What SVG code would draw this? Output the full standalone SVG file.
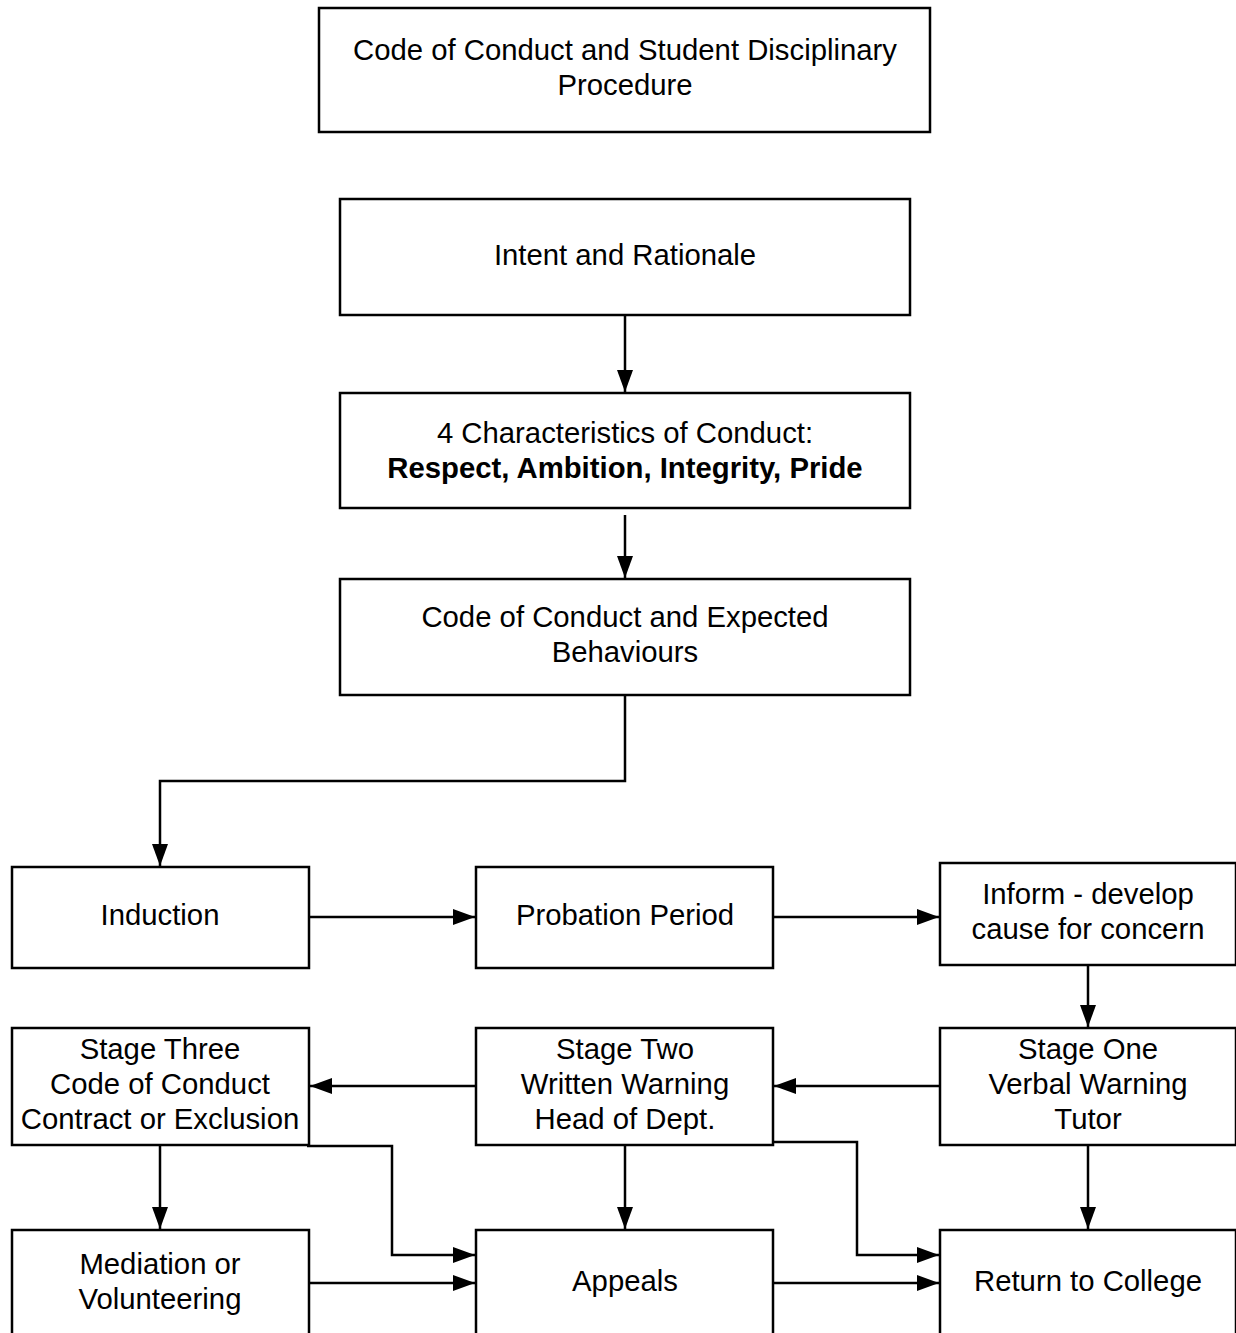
<svg xmlns="http://www.w3.org/2000/svg" width="1236" height="1333" viewBox="0 0 1236 1333">
<defs>
<marker id="ah" markerWidth="22" markerHeight="16" refX="22" refY="8" orient="auto" markerUnits="userSpaceOnUse">
<path d="M0,0 L22,8 L0,16 Z" fill="#000"/>
</marker>
<style>
.box{fill:#fff;stroke:#000;stroke-width:2.5}
.t{font-family:"Liberation Sans",Arial,sans-serif;font-size:29.3px;fill:#000;text-anchor:middle;dominant-baseline:central}
.b{font-weight:bold}
.c{fill:none;stroke:#000;stroke-width:2.5}
</style>
</defs>
<rect width="1236" height="1333" fill="#fff"/>
<g id="n-top"><rect class="box" x="319" y="8" width="611" height="124"/>
<text class="t" x="625" y="49">Code of Conduct and Student Disciplinary</text>
<text class="t" x="625" y="84">Procedure</text></g>
<g id="n-intent"><rect class="box" x="340" y="199" width="570" height="116"/>
<text class="t" x="625" y="254">Intent and Rationale</text></g>
<g id="n-char"><rect class="box" x="340" y="393" width="570" height="115"/>
<text class="t" x="625" y="432">4 Characteristics of Conduct:</text>
<text class="t b" x="625" y="467">Respect, Ambition, Integrity, Pride</text></g>
<g id="n-code"><rect class="box" x="340" y="579" width="570" height="116"/>
<text class="t" x="625" y="616">Code of Conduct and Expected</text>
<text class="t" x="625" y="651">Behaviours</text></g>
<g id="n-induction"><rect class="box" x="12" y="867" width="297" height="101"/>
<text class="t" x="160" y="914">Induction</text></g>
<g id="n-probation"><rect class="box" x="476" y="867" width="297" height="101"/>
<text class="t" x="625" y="914">Probation Period</text></g>
<g id="n-inform"><rect class="box" x="940" y="863" width="296" height="102"/>
<text class="t" x="1088" y="893">Inform - develop</text>
<text class="t" x="1088" y="928">cause for concern</text></g>
<g id="n-stage3"><rect class="box" x="12" y="1028" width="297" height="117"/>
<text class="t" x="160" y="1048">Stage Three</text>
<text class="t" x="160" y="1083">Code of Conduct</text>
<text class="t" x="160" y="1118">Contract or Exclusion</text></g>
<g id="n-stage2"><rect class="box" x="476" y="1028" width="297" height="117"/>
<text class="t" x="625" y="1048">Stage Two</text>
<text class="t" x="625" y="1083">Written Warning</text>
<text class="t" x="625" y="1118">Head of Dept.</text></g>
<g id="n-stage1"><rect class="box" x="940" y="1028" width="296" height="117"/>
<text class="t" x="1088" y="1048">Stage One</text>
<text class="t" x="1088" y="1083">Verbal Warning</text>
<text class="t" x="1088" y="1118">Tutor</text></g>
<g id="n-mediation"><rect class="box" x="12" y="1230" width="297" height="110"/>
<text class="t" x="160" y="1263">Mediation or</text>
<text class="t" x="160" y="1298">Volunteering</text></g>
<g id="n-appeals"><rect class="box" x="476" y="1230" width="297" height="110"/>
<text class="t" x="625" y="1280">Appeals</text></g>
<g id="n-return"><rect class="box" x="940" y="1230" width="296" height="110"/>
<text class="t" x="1088" y="1280">Return to College</text></g>
<g id="connectors">
<path class="c" d="M625,315 V392" marker-end="url(#ah)"/>
<path class="c" d="M625,515 V578" marker-end="url(#ah)"/>
<path class="c" d="M625,695 V781 H160 V866" marker-end="url(#ah)"/>
<path class="c" d="M309,917 H475" marker-end="url(#ah)"/>
<path class="c" d="M773,917 H939" marker-end="url(#ah)"/>
<path class="c" d="M1088,965 V1027" marker-end="url(#ah)"/>
<path class="c" d="M940,1086 H774" marker-end="url(#ah)"/>
<path class="c" d="M476,1086 H310" marker-end="url(#ah)"/>
<path class="c" d="M160,1145 V1229" marker-end="url(#ah)"/>
<path class="c" d="M625,1145 V1229" marker-end="url(#ah)"/>
<path class="c" d="M1088,1145 V1229" marker-end="url(#ah)"/>
<path class="c" d="M307,1146 H392 V1255 H475" marker-end="url(#ah)"/>
<path class="c" d="M773,1142 H857 V1255 H939" marker-end="url(#ah)"/>
<path class="c" d="M309,1283 H475" marker-end="url(#ah)"/>
<path class="c" d="M773,1283 H939" marker-end="url(#ah)"/>
</g>
</svg>
